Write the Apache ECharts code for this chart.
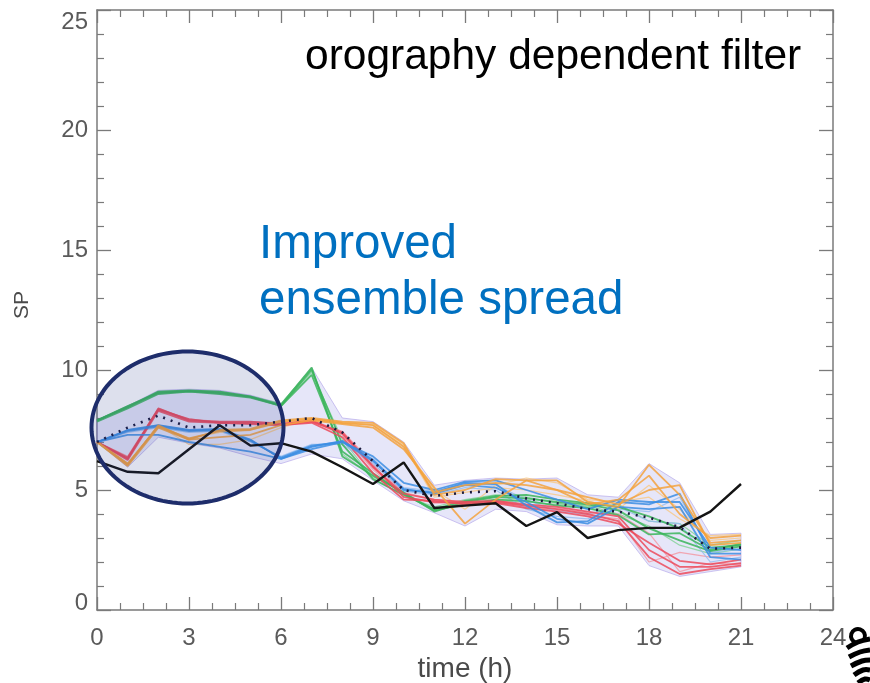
<!DOCTYPE html>
<html>
<head>
<meta charset="utf-8">
<title>SP ensemble – orography dependent filter</title>
<script src="https://cdn.jsdelivr.net/npm/echarts@6/dist/echarts.min.js"></script>
<style>
  html, body { margin: 0; padding: 0; background: #fff; }
  #chart { width: 870px; height: 683px; }
</style>
</head>
<body>
<div id="chart"></div>
<script>
// Forecast hours (h)
const hours = [0,1,2,3,4,5,6,7,8,9,10,11,12,13,14,15,16,17,18,19,20,21];

// Observed SP
const observed = [6.2,5.76,5.7,6.7,7.7,6.85,6.95,6.6,5.95,5.25,6.15,4.25,4.35,4.45,3.5,4.08,3.0,3.33,3.42,3.43,4.1,5.25];

// Ensemble mean
const ensembleMean = [7.0,7.6,8.1,7.6,7.7,7.7,7.85,8.0,7.4,6.2,5.0,4.75,4.9,4.95,4.65,4.45,4.2,4.1,3.85,3.45,2.55,2.6];

// Ensemble spread envelope (min / max)
const spreadLow  = [7.0,5.95,7.2,6.95,6.75,6.4,6.1,6.5,6.3,5.4,4.55,4.05,3.5,4.2,4.1,3.55,3.5,3.5,1.85,1.4,1.6,1.8];
const spreadHigh = [7.9,8.5,9.15,9.2,9.15,8.95,8.6,10.1,8.0,7.85,7.0,5.2,5.4,5.5,5.45,5.5,4.8,4.7,6.1,5.3,3.15,3.2];

// Ensemble members, grouped by driving model
const greenMembers = [
  [7.9,8.45,9.1,9.15,9.1,8.9,8.55,10.1,6.4,5.6,4.9,4.1,4.5,4.7,4.65,4.5,4.4,4.15,3.4,2.9,2.45,2.65],
  [7.9,8.5,9.05,9.12,9.05,8.88,8.5,10.0,6.9,5.45,4.8,4.2,4.55,4.75,4.8,4.6,4.45,4.3,3.9,3.4,2.6,2.7],
  [7.85,8.4,9.0,9.1,9.0,8.85,8.5,9.8,6.6,5.7,4.85,4.15,4.4,4.6,4.55,4.35,4.25,3.95,3.15,3.2,2.5,2.75],
  [7.9,8.45,9.05,9.1,9.05,8.9,8.55,9.9,7.1,5.5,4.75,4.3,4.6,4.8,4.7,4.45,4.3,4.4,3.7,3.6,2.7,2.9],
  [7.9,8.5,9.1,9.15,9.1,8.9,8.6,10.05,6.5,5.55,4.9,4.2,4.35,4.55,4.5,4.4,4.35,4.0,3.5,2.7,2.35,2.55]
];
const redMembers = [
  [7.0,6.3,8.4,7.9,7.85,7.85,7.75,7.9,7.35,5.95,4.85,4.6,4.5,4.55,4.4,4.3,4.1,3.9,2.5,1.8,1.8,1.95],
  [7.0,6.35,8.35,7.95,7.8,7.8,7.7,7.85,7.4,6.0,4.7,4.5,4.45,4.5,4.35,4.2,4.0,3.7,2.2,1.5,1.7,1.85],
  [7.0,6.25,8.3,7.85,7.8,7.75,7.7,7.8,7.2,5.7,4.6,4.55,4.4,4.45,4.25,4.1,3.9,3.6,2.8,2.05,1.9,2.1],
  [7.0,6.3,8.35,7.9,7.8,7.8,7.75,7.85,7.3,5.85,4.75,4.45,4.55,4.6,4.3,4.15,3.95,3.8,2.0,2.4,2.2,2.3],
  [7.0,6.4,8.4,7.95,7.85,7.85,7.8,7.9,7.45,6.1,4.9,4.6,4.5,4.5,4.3,4.25,4.05,4.0,3.2,1.6,1.95,1.9]
];
const blueMembers = [
  [7.0,7.5,7.7,7.5,7.55,7.1,6.3,6.8,7.05,6.25,5.0,4.9,5.3,5.25,4.35,3.65,3.7,4.5,4.4,4.85,2.35,2.35],
  [7.0,7.45,7.65,7.45,7.5,7.05,6.35,6.85,7.0,6.2,5.05,4.85,5.2,5.1,4.5,3.8,3.6,4.3,4.2,4.3,2.2,2.1],
  [7.0,7.3,7.3,7.0,6.8,6.6,6.3,6.7,7.0,6.4,5.3,5.0,5.35,5.4,5.0,4.6,4.2,4.6,4.5,4.5,2.6,2.5],
  [7.0,7.5,7.7,7.5,7.5,7.1,6.3,6.8,7.0,6.3,5.1,4.95,5.25,5.2,4.6,4.1,4.0,4.3,3.7,3.6,2.0,2.2],
  [7.0,7.4,7.6,7.4,7.45,7.0,6.4,6.9,6.9,6.1,4.95,4.8,5.1,5.0,4.2,3.9,3.8,4.2,4.1,4.7,2.4,2.55]
];
const orangeMembers = [
  [7.0,6.05,7.7,7.1,7.5,7.55,7.9,8.0,7.85,7.8,6.95,4.8,5.0,5.45,5.4,5.4,4.5,4.3,6.05,4.8,2.8,2.9],
  [7.0,6.1,7.65,7.15,7.45,7.5,7.85,7.95,7.8,7.7,6.8,4.9,5.2,5.3,5.2,5.0,4.4,4.6,5.6,4.0,3.0,3.1],
  [7.0,6.0,7.6,7.1,7.2,7.3,7.7,7.9,7.75,7.6,6.7,5.1,3.6,4.6,5.4,5.0,4.7,4.4,5.0,5.2,2.7,2.8],
  [7.0,6.05,7.7,6.9,6.9,7.1,7.6,7.95,7.8,7.75,6.9,5.0,4.2,5.2,5.5,5.3,4.6,4.5,4.7,3.8,3.1,3.15],
  [7.0,6.1,7.65,7.15,7.4,7.5,7.8,7.95,7.8,7.7,6.85,4.7,4.9,5.1,5.0,4.8,4.55,4.2,5.2,4.2,2.9,3.0]
];

// Tick labels
const xTicks = ['0','3','6','9','12','15','18','21','24'];
const yTicks = ['0','5','10','15','20','25'];

const pairs = (vals) => hours.map((h, i) => [h, vals[i]]);

const groupStyles = [
  { members: greenMembers,  strong: '#39b55a', light: '#86d29a' },
  { members: redMembers,    strong: '#ec4a5c', light: '#f29aa6' },
  { members: blueMembers,   strong: '#3b8de3', light: '#95bdf0' },
  { members: orangeMembers, strong: '#f3a23e', light: '#f7c98a' }
];

const series = [];

// Spread envelope as a shaded polygon
series.push({
  type: 'custom',
  name: 'spread',
  silent: true,
  z: 1,
  data: [0],
  renderItem: function (params, api) {
    const upper = hours.map((h, i) => api.coord([h, spreadHigh[i]]));
    const lower = hours.map((h, i) => api.coord([h, spreadLow[i]])).reverse();
    return {
      type: 'polygon',
      shape: { points: upper.concat(lower) },
      style: { fill: 'rgba(160,160,232,0.26)', stroke: 'rgba(165,150,230,0.55)', lineWidth: 1 }
    };
  }
});

groupStyles.forEach((g) => {
  g.members.forEach((m, k) => {
    const main = k < 3;
    series.push({
      type: 'line',
      data: pairs(m),
      symbol: 'none',
      silent: true,
      z: main ? 3 : 2,
      lineStyle: {
        color: main ? g.strong : g.light,
        width: main ? 1.8 : 1.2,
        opacity: 0.85
      }
    });
  });
});

// Observations
series.push({
  type: 'line',
  data: pairs(observed),
  symbol: 'none',
  silent: true,
  z: 5,
  lineStyle: { color: '#141414', width: 2.4 }
});

// Ensemble mean, dotted
series.push({
  type: 'line',
  data: pairs(ensembleMean),
  symbol: 'none',
  silent: true,
  z: 6,
  lineStyle: { color: '#1b1b3e', width: 2.6, type: [2, 6] }
});

const axisGrey = '#7a7a7a';
const labelFont = 'Liberation Sans, Arial, sans-serif';

function xAxisDef(pos, showLabels) {
  return {
    type: 'value', position: pos, min: 0, max: 24, interval: 3,
    axisLine: { show: true, onZero: false, lineStyle: { color: axisGrey, width: 1.5 } },
    axisTick: { show: true, inside: true, length: 13, lineStyle: { color: axisGrey, width: 1.3 } },
    minorTick: { show: true, splitNumber: 4, length: 7, lineStyle: { color: axisGrey, width: 1.2 } },
    splitLine: { show: false },
    axisLabel: {
      show: showLabels, margin: 16, color: '#5a5a5a', fontSize: 24, fontFamily: labelFont,
      formatter: (v) => xTicks[Math.round(v / 3)]
    },
    name: showLabels ? 'time (h)' : '',
    nameLocation: 'middle', nameGap: 43,
    nameTextStyle: { color: '#4a4a4a', fontSize: 28, fontFamily: labelFont }
  };
}
function yAxisDef(pos, showLabels) {
  return {
    type: 'value', position: pos, min: 0, max: 25, interval: 5,
    axisLine: { show: true, onZero: false, lineStyle: { color: axisGrey, width: 1.5 } },
    axisTick: { show: true, inside: true, length: 14, lineStyle: { color: axisGrey, width: 1.3 } },
    minorTick: { show: true, splitNumber: 5, length: 7, lineStyle: { color: axisGrey, width: 1.2 } },
    splitLine: { show: false },
    axisLabel: {
      show: showLabels, margin: 9, color: '#5a5a5a', fontSize: 24, fontFamily: labelFont,
      verticalAlignMinLabel: 'bottom', verticalAlignMaxLabel: 'top',
      formatter: (v) => (v === 0 ? '{lo|' + yTicks[0] + '}' : yTicks[Math.round(v / 5)]),
      rich: { lo: { lineHeight: 14, fontSize: 24, color: '#5a5a5a', fontFamily: labelFont } }
    },
    name: '',
    nameLocation: 'middle'
  };
}

// Ellipse outline highlighting the first hours
const ellipsePts = [];
for (let i = 0; i < 120; i++) {
  const a = i / 120 * Math.PI * 2;
  ellipsePts.push([187.5 + 96 * Math.cos(a), 427.5 + 76 * Math.sin(a)]);
}

// Emblem in the lower right corner
const emblemStrokes = [
  [[847,648],[858,642],[870,639]],
  [[849,657],[860,652],[870,650]],
  [[851,666],[862,661],[870,660]],
  [[854,675],[863,670],[870,670]],
  [[858,683],[865,679],[870,680]]
];

const chart = echarts.init(document.getElementById('chart'), null, { renderer: 'canvas' });
chart.setOption({
  backgroundColor: '#ffffff',
  animation: false,
  grid: { left: 97, right: 37, top: 10, bottom: 73, containLabel: false, outerBoundsMode: 'none' },
  xAxis: [xAxisDef('bottom', true), xAxisDef('top', false)],
  yAxis: [yAxisDef('left', true), yAxisDef('right', false)],
  series: series,
  graphic: [
    {
      type: 'polygon', z: 50, silent: true,
      shape: { points: ellipsePts },
      style: { fill: 'rgba(45,60,140,0.16)', stroke: '#1e2d6b', lineWidth: 4 }
    },
    {
      type: 'text', left: 305, top: 36, z: 60, silent: true,
      style: { text: 'orography dependent filter', fill: '#000', font: '42.5px "Liberation Sans", Arial, sans-serif' }
    },
    {
      type: 'text', left: 259, top: 221, z: 60, silent: true,
      style: { text: 'Improved', fill: '#0070c0', font: '47.5px "Liberation Sans", Arial, sans-serif' }
    },
    {
      type: 'text', left: 259, top: 277, z: 60, silent: true,
      style: { text: 'ensemble spread', fill: '#0070c0', font: '47.5px "Liberation Sans", Arial, sans-serif' }
    },
    {
      type: 'text', z: 60, silent: true, x: 22, y: 305, rotation: Math.PI / 2,
      style: { text: 'SP', fill: '#4a4a4a', font: '21px "Liberation Sans", Arial, sans-serif', align: 'center', verticalAlign: 'middle' }
    },
    {
      type: 'group', z: 60, silent: true,
      children: [
        {
          type: 'arc', shape: { cx: 858, cy: 636, r: 7, startAngle: Math.PI * 0.6, endAngle: Math.PI * 2.2 },
          style: { stroke: '#000', lineWidth: 4, fill: null }
        }
      ].concat(emblemStrokes.map((p) => ({
        type: 'polyline', shape: { points: p, smooth: 0.4 },
        style: { stroke: '#000', lineWidth: 5, fill: null }
      })))
    }
  ]
});
</script>
</body>
</html>
